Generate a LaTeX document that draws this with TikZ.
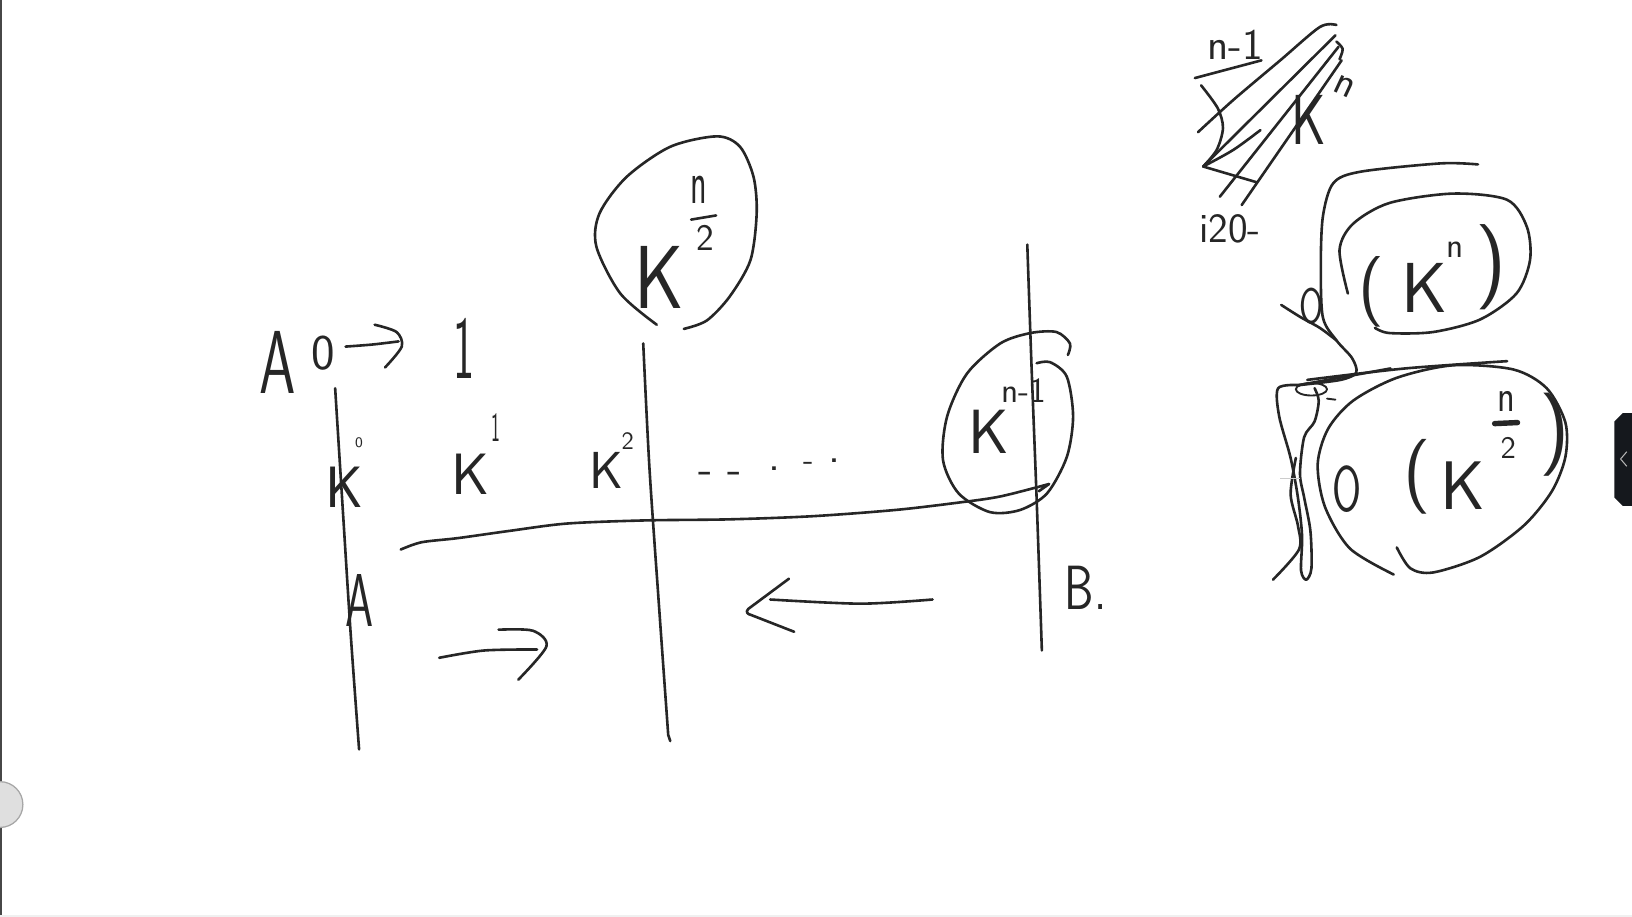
\documentclass[tikz,border=0pt]{standalone}
\usepackage{fontspec}
\definecolor{ink}{HTML}{262626}
\definecolor{tabc}{HTML}{15181D}
\newcommand\hsz[1]{\fontsize{#1pt}{#1pt}\selectfont\sffamily}
\begin{document}
\begin{tikzpicture}[x=0.5pt,y=-0.5pt,
  pen/.style={draw=ink,line width=1.25pt,line cap=round,line join=round},
  thinpen/.style={draw=ink,line width=0.9pt,line cap=round,line join=round},
  hand/.style={text=ink,inner sep=0pt,outer sep=0pt,anchor=center}]
\useasboundingbox (0,0) rectangle (1568,881);
\fill[white] (0,0) rectangle (1568,881);
% ---- UI frame ----
\fill[ink!85] (0,0) rectangle (2,881);
\fill[gray!12] (0,879) rectangle (1568,881);
\fill[gray!25] (0,773) circle (22);
\draw[gray!70,line width=.6pt] (0,773) circle (22);
\fill[tabc] (1568,397) -- (1559,397) -- (1551,405) -- (1551,478) -- (1559,486) -- (1568,486) -- cycle;
\draw[gray!60,line width=.5pt] (1563,434) -- (1557,441) -- (1563,448);

% ---- main sketch: vertical lines ----
\draw[pen] plot[smooth] coordinates {(322,373) (330,500) (337,610) (345,720)};
\draw[pen] plot[smooth] coordinates {(618,330) (624,450) (633,580) (642,706)} -- (644,712);
\draw[pen] plot[smooth] coordinates {(987,235) (991,350) (996,480) (1001,625)};

% long wavy line
\draw[pen] plot[smooth] coordinates {(385,528) (405,521) (440,517) (490,510) (545,503) (620,500) (700,499) (780,496) (860,490) (920,483) (961,477) (1008,465)} -- (998,472);

% egg around K^{n/2}
\draw[pen] plot[smooth] coordinates {(631,312) (596,282) (573,237) (576,205) (602,170) (644,141) (689,131) (711,141) (724,170) (727,205) (721,250) (701,285) (679,308) (657,316)};
% egg around K^{n-1}
\draw[pen] plot[smooth] coordinates {(1026,341) (1028,330) (1015,319) (990,320) (961,330) (929,359) (910,400) (906,442) (921,474) (951,492) (980,490) (1006,474) (1025,439) (1031,400) (1025,362) (1009,348) (996,349)};

% A0 -> 1 arrow
\draw[pen] plot[smooth] coordinates {(332,333) (358,331) (383,328)};
\draw[pen] plot[smooth] coordinates {(360,312) (381,319) (386,333) (370,353)};
% right arrow
\draw[pen] plot[smooth] coordinates {(422,632) (465,625) (516,624)};
\draw[pen] plot[smooth] coordinates {(479,605) (512,606) (525,621) (498,653)};
% left arrow
\draw[pen] plot[smooth] coordinates {(896,576) (827,580) (740,576)};
\draw[pen] (758,556) -- (719,585) .. controls (716,588) and (718,590) .. (722,591) -- (763,607);

% ---- main sketch: text ----
\node[hand,font=\hsz{43},xscale=.65] (bigA) at (267,348) {A};
\node[hand,font=\hsz{24}] (zero) at (311,339) {0};
\node[hand,font=\hsz{43},xscale=.5] (one) at (446,335) {1};
\node[hand,font=\hsz{28}] (K0) at (331,468) {K};
\node[hand,font=\hsz{7}] (s0) at (345,425) {0};
\node[hand,font=\hsz{28}] (K1) at (452,456) {K};
\node[hand,font=\hsz{20},xscale=.45] (s1) at (476,411) {1};
\node[hand,font=\hsz{25}] (K2) at (583,452) {K};
\node[hand,font=\hsz{12}] (s2) at (603,424) {2};
\node[hand,font=\hsz{22},anchor=base] (d1) at (678,465) {-};
\node[hand,font=\hsz{22},anchor=base] (d2) at (706,465) {-};
\node[hand,font=\hsz{22},anchor=base] (d3) at (744,452) {.};
\node[hand,font=\hsz{16},anchor=base] (d4) at (777,452) {-};
\node[hand,font=\hsz{22},anchor=base] (d5) at (802,444) {.};
\node[hand,font=\hsz{43},xscale=.85] (Kh) at (633,267) {K};
\node[hand,font=\hsz{30},xscale=.55] (nh) at (671,182) {n};
\draw[pen] (664,211) -- (688,207);
\node[hand,font=\hsz{18}] (th) at (678,229) {2};
\node[hand,font=\hsz{30}] (Km) at (950,415) {K};
\node[hand,font=\hsz{17}] (nm) at (984,375) {n-1};
\node[hand,font=\hsz{30},xscale=.75] (B) at (1043,565) {B.};
\node[hand,font=\hsz{36},xscale=.6] (A2) at (345,577) {A};

% ---- top right sketch ----
\node[hand,font=\hsz{21}] (tn1) at (1187,43) {n-1};
\draw[pen] (1148,75) -- (1212,58);
\draw[pen] plot[smooth] coordinates {(1151,127) (1185,96) (1230,58) (1268,26) (1284,24)};
\draw[pen] plot[smooth] coordinates {(1154,82) (1170,104) (1175,123) (1169,144) (1156,160)};
\draw[pen] (1156,160) -- (1283,34);
\draw[pen] plot[smooth] coordinates {(1156,160) (1185,144) (1211,125)};
\draw[pen] (1156,160) -- (1207,175);
\draw[pen] (1172,189) -- (1286,45);
\draw[pen] (1193,197) -- (1289,58);
\draw[pen] plot[smooth] coordinates {(1284,40) (1290,47) (1287,57)};
\node[hand,font=\hsz{34},xscale=.75] (tK) at (1257,115) {K};
\node[hand,font=\hsz{20},rotate=-25] (tn) at (1292,83) {n};
\node[hand,font=\hsz{20}] (ti) at (1182,220) {i20-};

% ---- right column: O(K^n), O(K^{n/2}) ----
\draw[pen] plot[smooth] coordinates {(1420,158) (1384,157) (1307,165) (1281,176) (1271,208) (1269,256) (1271,305) (1284,327) (1299,344) (1303,358) (1288,365) (1248,370)};
\draw[pen] plot[smooth] coordinates {(1231,293) (1250,305) (1268,315) (1284,327)};
\draw[pen] (1248,370) -- (1336,354);
\draw[pen] plot[smooth] coordinates {(1256,365) (1350,354) (1448,347)};
\draw[thinpen] (1260,374) ellipse (15 and 6);
\draw[thinpen] (1275,383) -- (1283,384);
% upper egg
\draw[pen] plot[smooth] coordinates {(1295,282) (1287,240) (1300,215) (1335,195) (1396,186) (1448,192) (1467,218) (1470,250) (1457,282) (1422,307) (1377,319) (1335,320) (1321,315)};
\node[hand,font=\hsz{24},xscale=.7] (uO) at (1260,294) {O};
\node[hand,font=\hsz{34}] (ulp) at (1318,280) {(};
\node[hand,font=\hsz{34}] (uK) at (1369,277) {K};
\node[hand,font=\hsz{17}] (un) at (1398,240) {n};
\node[hand,font=\hsz{41}] (urp) at (1433,257) {)};
% lower egg
\draw[pen] plot[smooth] coordinates {(1339,552) (1297,527) (1273,487) (1266,446) (1276,412) (1300,385) (1342,363) (1396,351) (1454,355) (1486,373) (1504,406) (1504,439) (1491,472) (1464,505) (1422,535) (1377,550) (1355,546) (1342,526)};
\node[hand,font=\hsz{31},xscale=.65] (lO) at (1294,470) {O};
\node[hand,font=\hsz{36}] (llp) at (1362,458) {(};
\node[hand,font=\hsz{33}] (lK) at (1405,467) {K};
\node[hand,font=\hsz{22},xscale=.8] (ln) at (1447,386) {n};
\draw[draw=ink,line width=2.6pt,line cap=round] (1436,407) -- (1458,406);
\node[hand,font=\hsz{15}] (l2) at (1449,430) {2};
\node[hand,font=\hsz{40}] (lrp) at (1494,418) {)};
% left squiggles
\draw[pen] plot[smooth] coordinates {(1249,370) (1228,373) (1229,400) (1240,440) (1247,478) (1251,515) (1250,548) (1255,557) (1260,546) (1259,510) (1253,478) (1249,455) (1253,420) (1263,405) (1267,385) (1263,373)};
\draw[pen] plot[smooth] coordinates {(1245,440) (1240,475) (1247,505) (1248,528) (1223,557)};
\draw[gray!40,line width=.6pt] (1230,460) -- (1249,460);
\end{tikzpicture}
\end{document}
